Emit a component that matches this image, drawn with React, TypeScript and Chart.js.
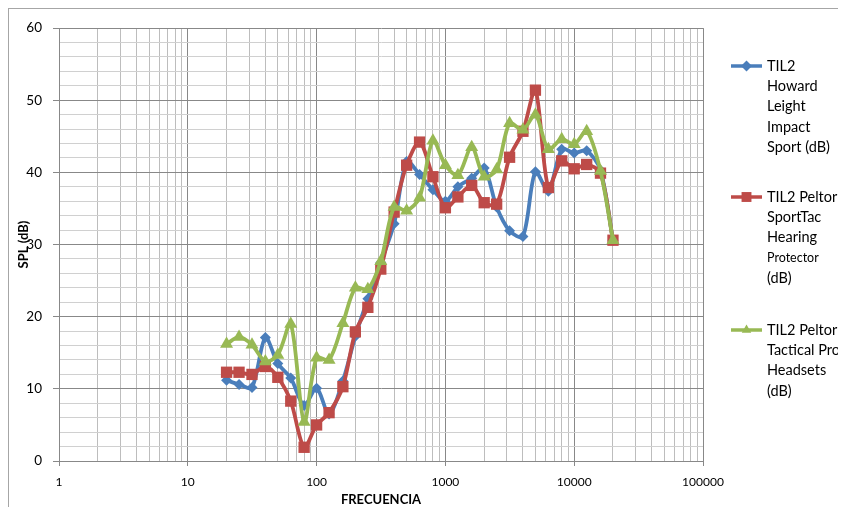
import React, { useEffect, useRef } from "react";
import { Chart, registerables } from "chart.js";

Chart.register(...registerables);

// ---- data ----
const freqs = [20, 25, 31.5, 40, 50, 63, 80, 100, 125, 160, 200, 250, 315, 400, 500, 630, 800, 1000, 1250, 1600, 2000, 2500, 3150, 4000, 5000, 6300, 8000, 10000, 12500, 16000, 20000];
const howardLeight = [11.2, 10.6, 10.2, 17.1, 13.5, 11.5, 7.7, 10.1, 6.5, 11.1, 17.3, 22.5, 27.5, 32.9, 41.5, 39.7, 37.6, 36.0, 38.0, 39.2, 40.6, 35.2, 31.9, 31.1, 40.1, 37.4, 43.2, 42.7, 43.0, 40.3, 30.6];
const peltorSportTac = [12.3, 12.3, 12.0, 13.1, 11.6, 8.3, 1.9, 5.0, 6.7, 10.3, 17.9, 21.3, 26.6, 34.5, 41.0, 44.2, 39.4, 35.1, 36.6, 38.2, 35.8, 35.6, 42.1, 45.7, 51.4, 37.9, 41.6, 40.5, 41.1, 39.9, 30.6];
const peltorTacticalPro = [16.2, 17.2, 16.1, 13.8, 14.7, 19.0, 5.4, 14.3, 14.0, 19.1, 24.0, 23.8, 27.7, 35.2, 34.7, 36.5, 44.4, 41.0, 39.6, 43.5, 39.4, 40.4, 46.8, 45.9, 48.0, 43.2, 44.6, 43.9, 45.7, 40.2, 30.6];

const seriesNames = [
  "TIL2 Howard Leight Impact Sport (dB)",
  "TIL2 Peltor SportTac Hearing Protector (dB)",
  "TIL2 Peltor Tactical Pro Headsets (dB)",
];
const legendLines = [
  ["TIL2", "Howard", "Leight", "Impact", "Sport (dB)"],
  ["TIL2 Peltor", "SportTac", "Hearing", "Protector", "(dB)"],
  ["TIL2 Peltor", "Tactical Pro", "Headsets", "(dB)"],
];
const seriesColors = ["#4A7EBB", "#BE4B48", "#98B954"];
const seriesMarkers = ["rectRot", "rect", "triangle"];

const xDecades = [1, 10, 100, 1000, 10000, 100000];
const xMultipliers = [1, 2, 3, 4, 5, 6, 7, 8, 9];
const yMin = 0;
const yMax = 60;
const yMinorStep = 2;
const yLabelStep = 10;
const xTitle = "FRECUENCIA";
const yTitle = "SPL (dB)";

const FONT = "Lato, 'Liberation Sans', sans-serif";

const CW = 837;
const CH = 498;
const PLOT_L = 50;
const PLOT_R = 694;
const PLOT_T = 13;
const PLOT_B = 452;

function isDecade(v: number) {
  const l = Math.log10(v);
  return Math.abs(l - Math.round(l)) < 1e-9;
}

function drawMarker(ctx: CanvasRenderingContext2D, kind: string, x: number, y: number, r: number) {
  ctx.beginPath();
  if (kind === "rectRot") {
    ctx.moveTo(x, y - r);
    ctx.lineTo(x + r, y);
    ctx.lineTo(x, y + r);
    ctx.lineTo(x - r, y);
  } else if (kind === "rect") {
    const s = r * Math.SQRT1_2;
    ctx.rect(x - s, y - s, 2 * s, 2 * s);
  } else {
    const w = r * Math.sqrt(3) / 2;
    ctx.moveTo(x, y - r);
    ctx.lineTo(x + w, y + r / 2);
    ctx.lineTo(x - w, y + r / 2);
  }
  ctx.closePath();
  ctx.fill();
}

const legendPlugin = {
  id: "sideLegend",
  afterDraw(chart: any) {
    const ctx: CanvasRenderingContext2D = chart.ctx;
    const firstY = [57, 188, 321];
    const lineH = 20.3;
    ctx.save();
    legendLines.forEach((lines, i) => {
      const y0 = firstY[i];
      ctx.strokeStyle = seriesColors[i];
      ctx.lineWidth = 3.5;
      ctx.beginPath();
      ctx.moveTo(722, y0);
      ctx.lineTo(753, y0);
      ctx.stroke();
      ctx.fillStyle = seriesColors[i];
      drawMarker(ctx, seriesMarkers[i], 737.5, y0, i === 1 ? 7 : 5.5);
      ctx.fillStyle = "#000";
      ctx.textBaseline = "middle";
      ctx.textAlign = "left";
      lines.forEach((t, j) => {
        const small = i === 1 && j === 3;
        ctx.font = `${small ? 12.5 : 14.5}px ${FONT}`;
        ctx.fillText(t, 758, y0 + j * lineH);
      });
    });
    ctx.restore();
  },
};

export default function App() {
  const ref = useRef<HTMLCanvasElement>(null);

  useEffect(() => {
    if (!ref.current) return;
    const mk = (arr: number[]) => freqs.map((f, i) => ({ x: f, y: arr[i] }));
    const series = [howardLeight, peltorSportTac, peltorTacticalPro];
    const radii = [5.5, 8, 7.5];
    const xGrid: number[] = [];
    xDecades.forEach((d) => {
      if (d === 100000) xGrid.push(d);
      else xMultipliers.forEach((m) => xGrid.push(d * m));
    });

    const chart = new Chart(ref.current, {
      type: "line",
      data: {
        datasets: series.map((arr, i) => ({
          label: seriesNames[i],
          data: mk(arr),
          borderColor: seriesColors[i],
          backgroundColor: seriesColors[i],
          borderWidth: 3.8,
          pointStyle: seriesMarkers[i] as any,
          pointRadius: radii[i],
          pointBorderWidth: 0,
          pointBackgroundColor: seriesColors[i],
          tension: 0.3,
          fill: false,
          order: 2 - i,
        })),
      },
      options: {
        responsive: false,
        animation: false,
        events: [],
        layout: { padding: { left: 0, top: PLOT_T, right: CW - PLOT_R, bottom: 0 } },
        plugins: {
          legend: { display: false },
          tooltip: { enabled: false },
        },
        scales: {
          x: {
            type: "logarithmic",
            min: 1,
            max: 100000,
            afterBuildTicks: (scale: any) => {
              scale.ticks = xGrid.map((v) => ({ value: v, major: isDecade(v) }));
            },
            afterFit: (scale: any) => {
              scale.height = CH - PLOT_B;
            },
            ticks: {
              autoSkip: false,
              maxRotation: 0,
              minRotation: 0,
              padding: 9,
              color: "#000",
              font: { family: FONT, size: 12 },
              callback: (v: any) => (isDecade(Number(v)) ? String(Number(v)) : ""),
            },
            grid: {
              color: (c: any) => (isDecade(c.tick.value) ? "#888888" : "#bdbdbd"),
              tickColor: (c: any) => (isDecade(c.tick.value) ? "#888888" : "rgba(0,0,0,0)"),
              tickLength: 5,
              lineWidth: 1,
            },
            border: { color: "#888888", width: 1 },
            title: {
              display: true,
              text: xTitle,
              color: "#000",
              font: { family: FONT, size: 13, weight: "bold" },
              padding: { top: 0, bottom: -1 },
            },
          },
          y: {
            type: "linear",
            min: yMin,
            max: yMax,
            afterFit: (scale: any) => {
              scale.width = PLOT_L;
            },
            ticks: {
              stepSize: yMinorStep,
              autoSkip: false,
              padding: 11,
              color: "#000",
              font: { family: FONT, size: 13.5 },
              callback: (v: any) => (Number(v) % yLabelStep === 0 ? String(v) : ""),
            },
            grid: {
              color: (c: any) => (c.tick.value % yLabelStep === 0 ? "#888888" : "#d0d0d0"),
              tickColor: (c: any) => (c.tick.value % yLabelStep === 0 ? "#888888" : "rgba(0,0,0,0)"),
              tickLength: 6,
              lineWidth: 1,
            },
            border: { color: "#888888", width: 1 },
            title: {
              display: true,
              text: yTitle,
              color: "#000",
              font: { family: FONT, size: 13, weight: "bold" },
              padding: { top: 7.5, bottom: 0 },
            },
          },
        },
      },
      plugins: [legendPlugin],
    });
    return () => chart.destroy();
  }, []);

  return (
    <div
      style={{
        width: 838,
        height: 499,
        borderTop: "1px solid #a6a6a6",
        borderLeft: "1px solid #a6a6a6",
        boxSizing: "border-box",
        background: "#fff",
      }}
    >
      <canvas ref={ref} width={CW} height={CH} style={{ display: "block" }} />
    </div>
  );
}
